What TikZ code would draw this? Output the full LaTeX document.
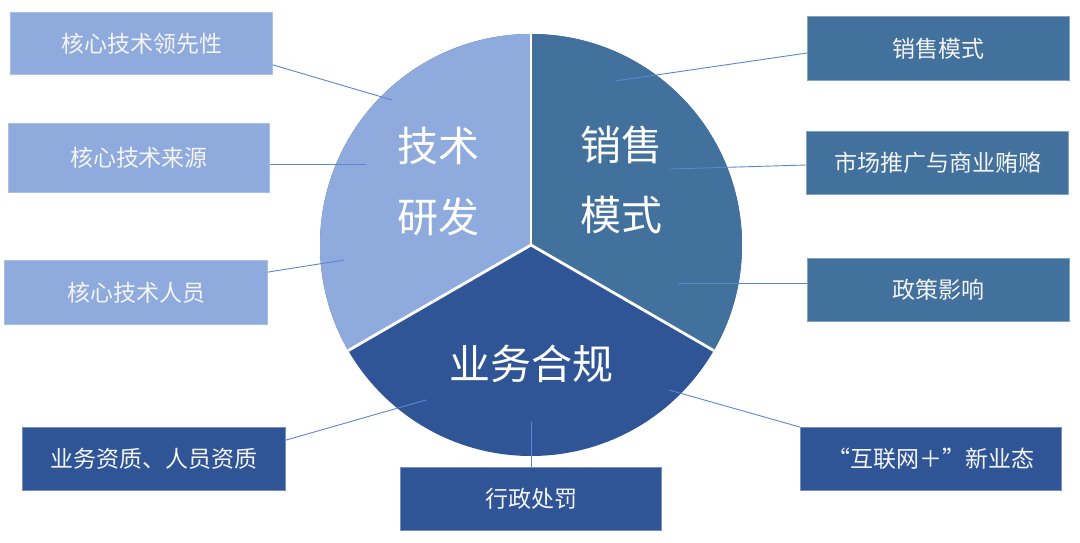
\documentclass[tikz,border=0pt]{standalone}
\usepackage{fontspec}
\setmainfont{Noto Sans CJK SC}
\usetikzlibrary{calc}
\definecolor{cLight}{HTML}{8FAADC}
\definecolor{cMid}{HTML}{41719C}
\definecolor{cDark}{HTML}{2F5597}
\definecolor{cLine}{HTML}{5B86D0}
\definecolor{cText}{HTML}{F4F4F4}
\tikzset{
  box/.style={rectangle, inner sep=0pt, line width=0.8pt, text=cText,
    font=\fontsize{23}{27}\selectfont, minimum height=63pt, minimum width=262pt},
  lightbox/.style={box, fill=cLight, draw=cLight!75!white},
  midbox/.style={box, fill=cMid, draw=cMid!65!white},
  darkbox/.style={box, fill=cDark, draw=cDark!65!white},
  conn/.style={draw=cLine, line width=0.9pt},
  bigtext/.style={text=white, font=\fontsize{41}{48}\selectfont, inner sep=0pt},
  divider/.style={draw=white, line width=2.8pt}
}
\begin{document}
\begin{tikzpicture}[x=1pt,y=-1pt]
\useasboundingbox (0,0) rectangle (1080,543);
% pie
\coordinate (c) at (531,245);
\fill[cDark] (c) circle[radius=211pt];
\begin{scope}
  \clip (c) circle[radius=211pt];
  \fill[cLight] (c) -- (531,0) -- (300,0) -- (300,378.4) -- cycle;
  \fill[cMid] (c) -- (531,0) -- (760,0) -- (760,377.2) -- cycle;
\end{scope}
\coordinate (ptop) at (531,34);
\coordinate (pleft) at (348.3,350.5);
\coordinate (pright) at (713.7,350.5);
\draw[divider] (c) -- (ptop);
\draw[divider] (c) -- (pleft);
\draw[divider] (c) -- (pright);
% pie labels
\node[bigtext] (t1) at (438,146) {技术};
\node[bigtext] (t2) at (438,217) {研发};
\node[bigtext] (t3) at (621,145) {销售};
\node[bigtext] (t4) at (621,215) {模式};
\node[bigtext] (t5) at (531,364) {业务合规};
% inner end points
\coordinate (e1) at (392,100);
\coordinate (e2) at (366,164);
\coordinate (e3) at (344,260);
\coordinate (e4) at (615,81);
\coordinate (e5) at (670,169);
\coordinate (e6) at (678,283);
\coordinate (e7) at (426,400);
\coordinate (e8) at (531,422);
\coordinate (e9) at (669,390);
% boxes
\node[lightbox, minimum width=262pt, minimum height=62pt] (b1) at (141.5,43.5) {核心技术领先性\hspace{12pt}};
\node[lightbox, minimum width=261pt, minimum height=69pt] (b2) at (139,158) {核心技术来源\hspace{12pt}};
\node[lightbox, minimum width=263pt, minimum height=64pt] (b3) at (136,292.5) {核心技术人员\hspace{8pt}};
\node[midbox, minimum width=262pt, minimum height=64pt] (b4) at (938.5,48.5) {销售模式};
\node[midbox, minimum width=262pt, minimum height=63pt] (b5) at (937.5,163) {市场推广与商业贿赂};
\node[midbox, minimum width=262pt, minimum height=63pt] (b6) at (938.5,290) {政策影响};
\node[darkbox, minimum width=263pt, minimum height=63pt] (b7) at (154,459) {业务资质、人员资质};
\node[darkbox, minimum width=261pt, minimum height=63pt] (b8) at (531,499) {行政处罚};
\node[darkbox, minimum width=261pt, minimum height=63pt] (b9) at (931,459) {“互联网＋”新业态};
% connectors
\draw[conn] ($(b1.south east)+(0,-10)$) -- (e1);
\draw[conn] ($(b2.east)+(0,6)$) -- (e2);
\draw[conn] ($(b3.north east)+(0,12)$) -- (e3);
\draw[conn] ($(b4.west)+(0,4.5)$) -- (e4);
\draw[conn] ($(b5.west)+(0,2)$) -- (e5);
\draw[conn] ($(b6.west)+(0,-7)$) -- (e6);
\draw[conn] ($(b7.north east)+(0,13)$) -- (e7);
\draw[conn] (b8.north) -- (e8);
\draw[conn] (b9.north west) -- (e9);
\end{tikzpicture}
\end{document}
